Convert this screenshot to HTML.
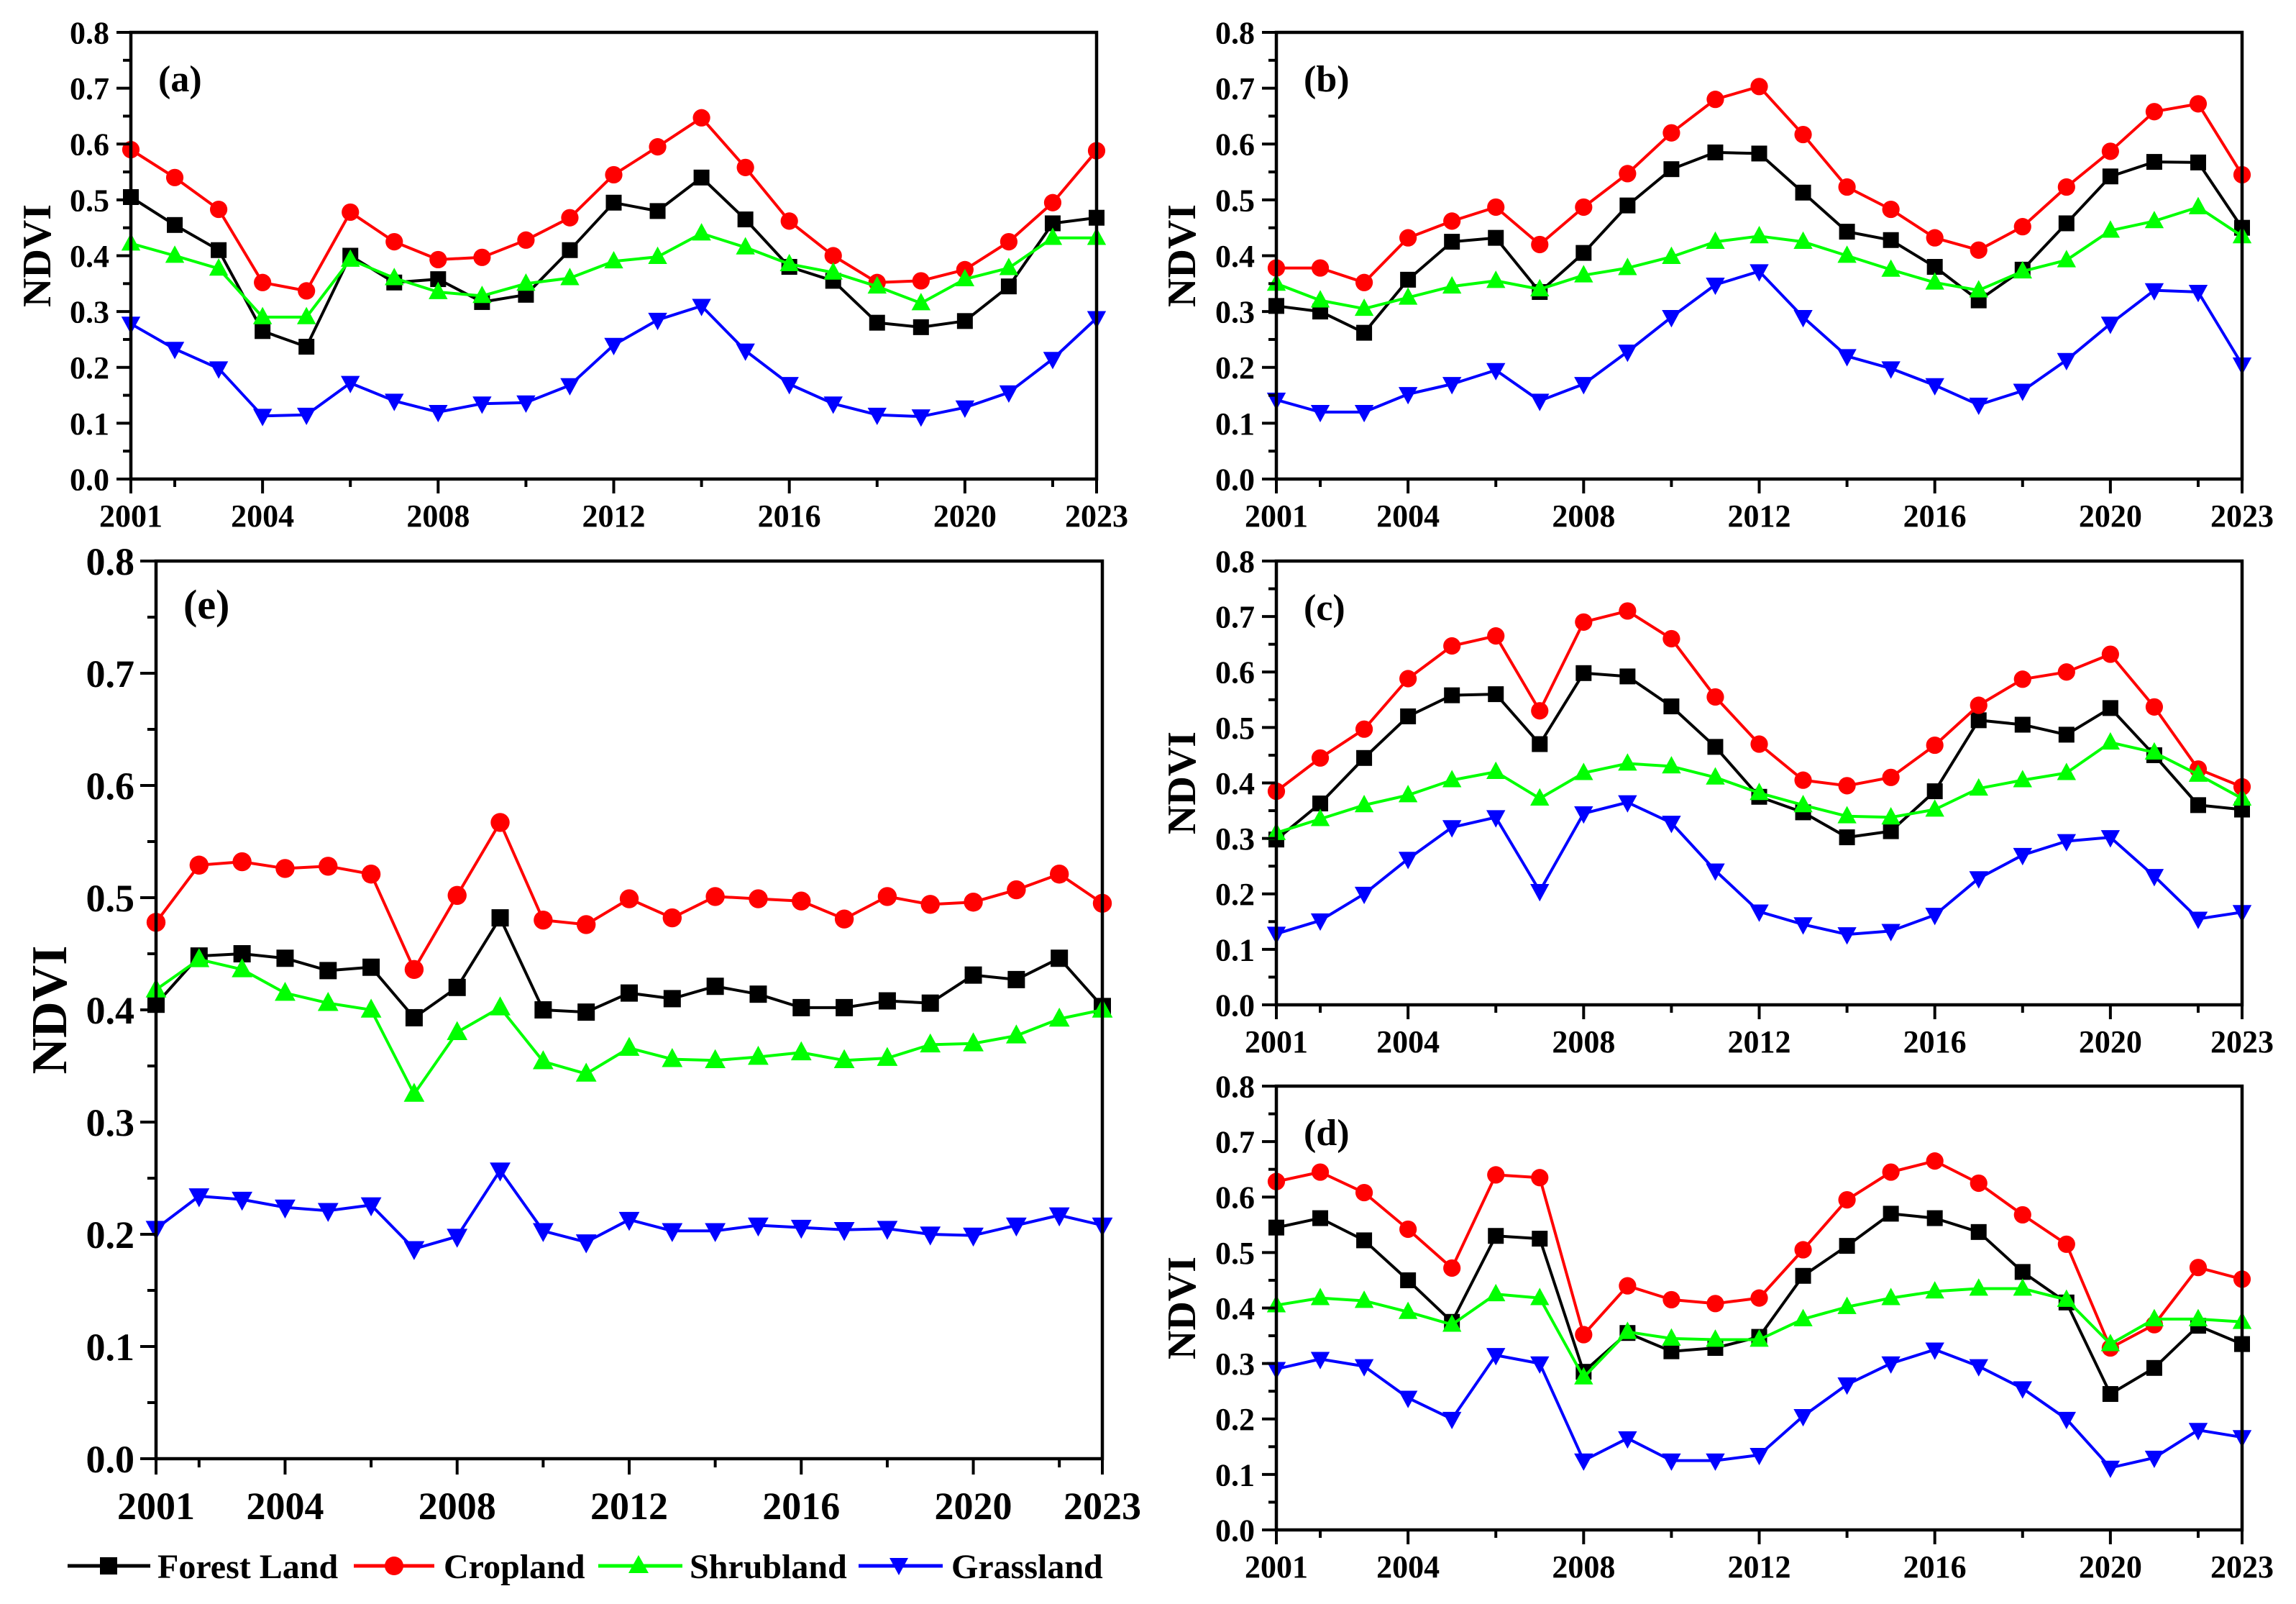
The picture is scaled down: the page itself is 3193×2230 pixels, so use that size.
<!DOCTYPE html>
<html><head><meta charset="utf-8">
<style>
html,body{margin:0;padding:0;background:#fff;}
svg{display:block;font-family:"Liberation Serif",serif;font-weight:bold;}
</style></head>
<body>
<svg id="fig" width="3193" height="2230" viewBox="0 0 3193 2230" xmlns="http://www.w3.org/2000/svg">
<g font-size="48">
  <g>
    <line x1="94" y1="2177" x2="209" y2="2177" stroke="#000" stroke-width="5"/>
    <rect x="139" y="2165" width="24" height="24" fill="#000"/>
    <text x="219" y="2194">Forest Land</text>
  </g>
  <g>
    <line x1="492" y1="2177" x2="604" y2="2177" stroke="#f00" stroke-width="5"/>
    <circle cx="548" cy="2177" r="13" fill="#f00"/>
    <text x="617" y="2194">Cropland</text>
  </g>
  <g>
    <line x1="832" y1="2177" x2="949" y2="2177" stroke="#0f0" stroke-width="5"/>
    <polygon points="888,2162 902,2187 874,2187" fill="#0f0"/>
    <text x="959" y="2194">Shrubland</text>
  </g>
  <g>
    <line x1="1194" y1="2177" x2="1311" y2="2177" stroke="#00f" stroke-width="5"/>
    <polygon points="1237,2166 1263,2166 1250,2190" fill="#00f"/>
    <text x="1323" y="2194">Grassland</text>
  </g>
</g>
</svg>
<script>
const years = [2001,2002,2003,2004,2005,2006,2007,2008,2009,2010,2011,2012,2013,2014,2015,2016,2017,2018,2019,2020,2021,2022,2023];
const xTickLabels = [2001,2004,2008,2012,2016,2020,2023];
const xMinorTicks = [2002,2006,2010,2014,2018,2022];
const yTickLabels = ["0.0","0.1","0.2","0.3","0.4","0.5","0.6","0.7","0.8"];

const aForest = [.505,.455,.41,.265,.237,.40,.352,.358,.317,.33,.41,.495,.48,.54,.465,.38,.355,.28,.272,.283,.345,.458,.468];
const aCrop   = [.59,.54,.483,.352,.337,.478,.425,.393,.397,.428,.468,.545,.595,.647,.558,.462,.4,.352,.355,.375,.425,.495,.588];
const aShrub  = [.422,.40,.377,.29,.29,.393,.36,.335,.328,.35,.36,.39,.398,.44,.415,.385,.37,.345,.315,.358,.378,.432,.432];
const aGrass  = [.278,.233,.198,.113,.115,.172,.14,.12,.135,.137,.168,.24,.285,.31,.23,.17,.135,.115,.112,.128,.155,.215,.288];

const bForest = [.31,.30,.262,.357,.425,.432,.335,.405,.49,.555,.585,.583,.513,.443,.428,.38,.32,.375,.458,.542,.568,.567,.45];
const bCrop   = [.378,.378,.352,.432,.462,.487,.42,.487,.547,.62,.68,.703,.617,.523,.483,.432,.41,.452,.523,.587,.658,.672,.545];
const bShrub  = [.35,.32,.305,.325,.345,.355,.34,.365,.378,.398,.425,.435,.425,.4,.375,.352,.338,.372,.392,.445,.462,.487,.435];
const bGrass  = [.142,.12,.12,.152,.17,.195,.14,.17,.228,.29,.348,.372,.29,.22,.198,.168,.133,.158,.213,.278,.338,.335,.205];

const cForest = [.298,.363,.445,.52,.558,.56,.47,.598,.592,.538,.465,.375,.347,.302,.313,.385,.513,.505,.487,.535,.45,.36,.352];
const cCrop   = [.385,.445,.497,.588,.647,.665,.53,.69,.71,.66,.555,.47,.405,.395,.41,.468,.54,.587,.6,.632,.537,.425,.393];
const cShrub  = [.31,.335,.36,.378,.405,.42,.372,.418,.435,.43,.41,.382,.36,.34,.338,.352,.39,.405,.418,.473,.455,.415,.372];
const cGrass  = [.128,.152,.2,.263,.32,.338,.205,.345,.365,.328,.242,.168,.145,.127,.133,.162,.228,.27,.295,.302,.232,.155,.167];

const dForest = [.545,.562,.522,.45,.375,.53,.525,.285,.355,.322,.328,.348,.458,.512,.57,.562,.537,.465,.41,.245,.292,.368,.335];
const dCrop   = [.628,.645,.608,.542,.472,.64,.635,.352,.44,.415,.408,.418,.505,.595,.645,.665,.625,.568,.515,.328,.37,.473,.452];
const dShrub  = [.405,.418,.413,.393,.37,.425,.418,.275,.357,.345,.343,.343,.38,.402,.418,.43,.435,.435,.415,.335,.38,.38,.375];
const dGrass  = [.29,.308,.295,.238,.2,.315,.3,.125,.165,.125,.125,.135,.205,.262,.3,.325,.295,.255,.2,.112,.13,.18,.167];

const eForest = [.405,.448,.45,.446,.435,.438,.393,.42,.482,.4,.398,.415,.41,.421,.414,.402,.402,.408,.406,.431,.427,.446,.403];
const eCrop   = [.478,.529,.532,.526,.528,.521,.436,.502,.567,.48,.476,.499,.482,.501,.499,.497,.481,.501,.494,.496,.507,.521,.495];
const eShrub  = [.418,.445,.436,.415,.406,.40,.325,.38,.402,.354,.343,.366,.356,.355,.358,.362,.355,.357,.369,.37,.377,.392,.40];
const eGrass  = [.205,.234,.231,.224,.221,.226,.187,.198,.257,.203,.193,.213,.203,.203,.208,.206,.204,.205,.2,.199,.208,.217,.208];

const NS = "http://www.w3.org/2000/svg";
const svg = document.getElementById('fig');
function mk(tag, attrs, parent){
  const el = document.createElementNS(NS, tag);
  for (const k in attrs) el.setAttribute(k, attrs[k]);
  parent.appendChild(el);
  return el;
}

function panel(id, L, R, T, B, series, o){
  const g = mk('g', {}, svg);
  
  
  const xs = y => L + (y - 2001) / 22 * (R - L);
  const ys = v => B - v / 0.8 * (B - T);
  // series
  series.forEach(s => {
    const sg = mk('g', {}, g);
    
    
    const pts = s.vals.map((v,i) => xs(years[i]).toFixed(1) + ',' + ys(v).toFixed(1)).join(' ');
    const pl = mk('polyline', {points: pts, fill:'none', stroke:s.color, 'stroke-width':o.lw, 'stroke-linejoin':'round'}, sg);
    
    
    s.vals.forEach((v,i) => {
      const cx = xs(years[i]), cy = ys(v), m = o.ms;
      let el;
      if (s.marker === 'square') el = mk('rect', {x:cx-m*0.5, y:cy-m*0.5, width:m, height:m, fill:s.color}, sg);
      else if (s.marker === 'circle') el = mk('circle', {cx:cx, cy:cy, r:m*0.55, fill:s.color}, sg);
      else if (s.marker === 'up') el = mk('polygon', {points:`${cx},${cy-m*0.65} ${cx+m*0.6},${cy+m*0.45} ${cx-m*0.6},${cy+m*0.45}`, fill:s.color}, sg);
      else el = mk('polygon', {points:`${cx-m*0.6},${cy-m*0.45} ${cx+m*0.6},${cy-m*0.45} ${cx},${cy+m*0.65}`, fill:s.color}, sg);
      
      
    });
  });
  // frame
  const fr = mk('rect', {x:L, y:T, width:R-L, height:B-T, fill:'none', stroke:'#000', 'stroke-width':4.5}, g);
  
  
  // y ticks
  const ya = mk('g', {}, g);
  
  
  for (let k = 0; k <= 16; k++){
    const v = k * 0.05, y = ys(v);
    mk('line', {x1:L - (k%2===0 ? o.tk : o.tk*0.55), y1:y, x2:L, y2:y, stroke:'#000', 'stroke-width':4}, ya);
  }
  yTickLabels.forEach((t,k) => {
    const tx = mk('text', {x:L - o.lgap, y:ys(parseFloat(t)) + o.fs*0.35, 'text-anchor':'end', 'font-size':o.fs}, ya);
    tx.textContent = t;
    
    
  });
  // x ticks
  const xa = mk('g', {}, g);
  
  
  xTickLabels.forEach(yr => {
    mk('line', {x1:xs(yr), y1:B, x2:xs(yr), y2:B + o.tk, stroke:'#000', 'stroke-width':4}, xa);
    const tx = mk('text', {x:xs(yr), y:B + o.xoff, 'text-anchor':'middle', 'font-size':o.fs}, xa);
    tx.textContent = yr;
    
    
  });
  xMinorTicks.forEach(yr => {
    mk('line', {x1:xs(yr), y1:B, x2:xs(yr), y2:B + o.tk*0.55, stroke:'#000', 'stroke-width':4}, xa);
  });
  // y title
  const yt = mk('text', {x:0, y:0, 'text-anchor':'middle', 'font-size':o.tfs, transform:`translate(${o.tx},${(T+B)/2}) rotate(-90)`}, g);
  yt.textContent = 'NDVI';
  
  
  // panel label
  const pl = mk('text', {x:L + o.px, y:T + o.py, 'font-size':o.pfs}, g);
  pl.textContent = '(' + id + ')';
  
  
}

function mkSeries(f,c,s,g){
  return [
    {name:'forest-land', color:'#000', marker:'square', vals:f},
    {name:'cropland', color:'#f00', marker:'circle', vals:c},
    {name:'shrubland', color:'#0f0', marker:'up', vals:s},
    {name:'grassland', color:'#00f', marker:'down', vals:g}
  ];
}
const small = {lw:4, ms:22, tk:20, lgap:30, fs:44, xoff:66, tfs:56, tx:70, px:38, py:82, pfs:52};
const big = {lw:4, ms:24, tk:22, lgap:30, fs:54, xoff:84, tfs:70, tx:92, px:38, py:80, pfs:58};
panel('a', 182, 1525, 45, 666, mkSeries(aForest,aCrop,aShrub,aGrass), small);
panel('b', 1775, 3118, 45, 666, mkSeries(bForest,bCrop,bShrub,bGrass), Object.assign({}, small, {tx:1662}));
panel('c', 1775, 3118, 780, 1397, mkSeries(cForest,cCrop,cShrub,cGrass), Object.assign({}, small, {tx:1662}));
panel('d', 1775, 3118, 1510, 2127, mkSeries(dForest,dCrop,dShrub,dGrass), Object.assign({}, small, {tx:1662}));
panel('e', 217, 1533, 780, 2028, mkSeries(eForest,eCrop,eShrub,eGrass), big);
</script>
</body></html>
